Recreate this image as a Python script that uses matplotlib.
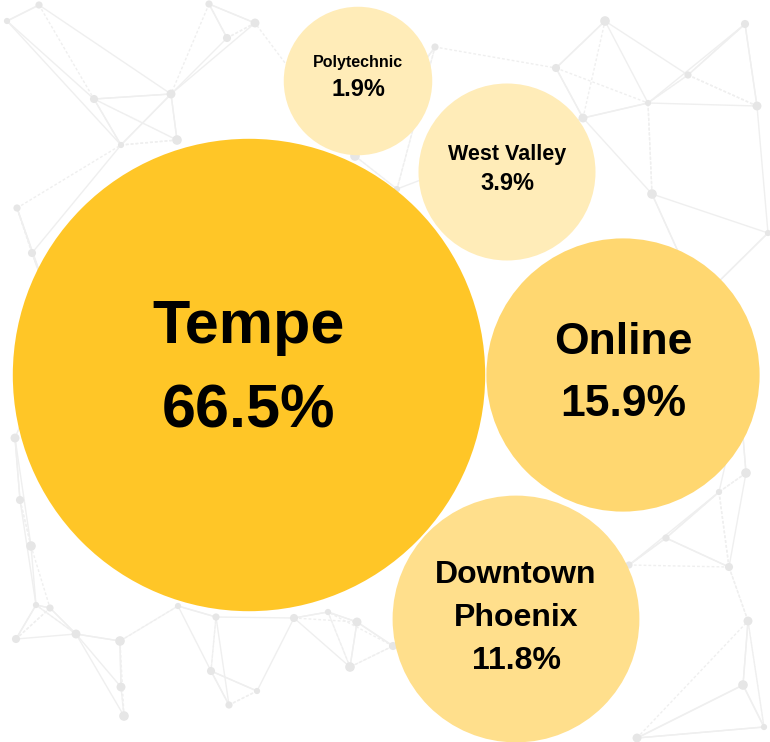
import numpy as np
from matplotlib import pyplot as plt
from matplotlib.patches import Circle

campuses = ["Tempe", "Online", "Downtown\nPhoenix", "West Valley", "Polytechnic"]
shares = [66.5, 15.9, 11.8, 3.9, 1.9]

# layout (pixel space, y down)
centers = [(249, 375), (623, 375), (516, 619), (507, 172), (358, 81)]
text_shift = [-5, -1, -1, -3, -5]
colors = ["#FFC627", "#FFD770", "#FFDF8C", "#FFECB8", "#FFECB8"]
label_size = [44, 32, 23, 15.5, 11.5]
value_size = [44, 32, 23, 17, 17]
line_gap = [85, 62, 43, 29, 27]

# decorative background network nodes
bg_nodes = np.array([
    (7, 21), (39, 5), (94, 99), (171, 94), (177, 140), (121, 145), (209, 4),
    (227, 38), (255, 23), (605, 21), (648, 103), (688, 75), (745, 24),
    (757, 106), (652, 194), (768, 233), (435, 47), (556, 68), (583, 118),
    (355, 156), (397, 189), (666, 538), (729, 567), (748, 621), (743, 685),
    (764, 727), (629, 565), (393, 646), (637, 738), (31, 546), (36, 605),
    (50, 608), (16, 639), (76, 634), (120, 641), (178, 606), (216, 617),
    (294, 618), (357, 622), (350, 667), (257, 691), (229, 705), (211, 671),
    (121, 687), (124, 716), (328, 612), (17, 208), (32, 253), (15, 438),
    (746, 473), (719, 492), (60, 330), (20, 500), (700, 300), (740, 400),
])

fig = plt.figure(figsize=(7.7, 7.42), dpi=100)
ax = fig.add_axes([0, 0, 1, 1])
ax.set_xlim(0, 770)
ax.set_ylim(742, 0)
ax.set_aspect("equal")
ax.axis("off")

# network edges: each node to its nearest neighbours
for i, p in enumerate(bg_nodes):
    d = np.hypot(*(bg_nodes - p).T)
    for j in np.argsort(d)[1:4]:
        q = bg_nodes[j]
        ls = (0, (2, 1.5)) if (i + j) % 3 == 0 else "-"
        ax.plot([p[0], q[0]], [p[1], q[1]], color="#efefef", lw=1.0, ls=ls, zorder=1)
sizes = [20 + (i * 7) % 35 for i in range(len(bg_nodes))]
ax.scatter(bg_nodes[:, 0], bg_nodes[:, 1], s=sizes, color="#e6e6e6", zorder=2, lw=0)

for name, v, c, dy, col, ls, vs, gap in zip(campuses, shares, centers, text_shift,
                                            colors, label_size, value_size, line_gap):
    r = 41.3 + 23.9 * np.sqrt(v)
    ax.add_patch(Circle(c, r, color=col, zorder=3, lw=0))
    lines = name.split("\n")
    n = len(lines) + 1
    ys = [c[1] + dy + (k - (n - 1) / 2) * gap for k in range(n)]
    for k, t in enumerate(lines):
        ax.text(c[0], ys[k], t, ha="center", va="center", fontsize=ls,
                fontweight="bold", family="Liberation Sans", zorder=4)
    ax.text(c[0], ys[-1], f"{v}%", ha="center", va="center", fontsize=vs,
            fontweight="bold", family="Liberation Sans", zorder=4)

fig.savefig("out.png", dpi=100)
